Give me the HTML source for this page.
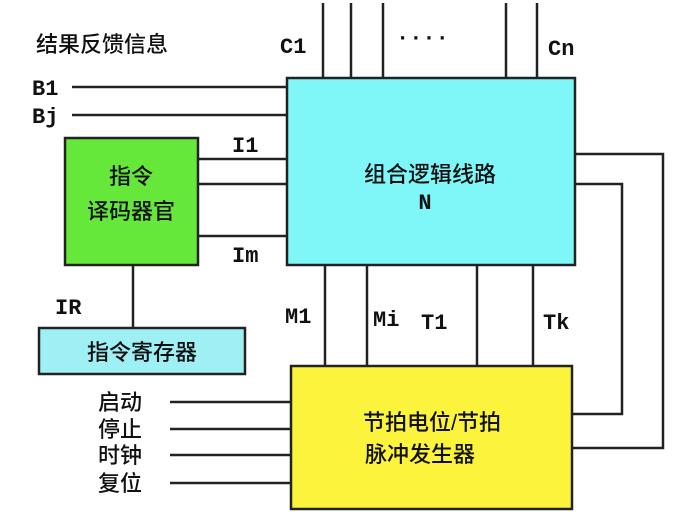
<!DOCTYPE html>
<html><head><meta charset="utf-8"><style>
body{margin:0;background:#fff}
svg text{font-family:"Liberation Mono","Noto Sans CJK SC",monospace;fill:#111}
.c{font-family:"Liberation Sans","Noto Sans CJK SC",sans-serif;font-weight:500}
</style></head><body>
<svg width="678" height="518" viewBox="0 0 678 518" xmlns="http://www.w3.org/2000/svg">
<g stroke="#222" stroke-width="2.5" fill="none">
<path d="M323 3V78M351 3V78M383 3V78M506 3V78M537 3V78"/>
<path d="M72 87H287M72 115H287"/>
<path d="M198 159H287M198 184H287M198 236H287"/>
<path d="M575 154H663V448H573M575 184H622V414H573"/>
<path d="M133 265V328"/>
<path d="M325 265V366M367 265V366M477 265V366M533 265V366"/>
<path d="M170 402H291M170 429H291M170 455H291M170 483H291"/>
</g>
<rect x="287" y="78" width="288" height="187" fill="#7ff6f8" stroke="#222" stroke-width="2.5"/>
<rect x="65" y="138" width="133" height="127" fill="#66e83a" stroke="#222" stroke-width="2.5"/>
<rect x="39" y="328" width="206" height="46" fill="#9ff0f4" stroke="#222" stroke-width="2.5"/>
<rect x="291" y="366" width="281" height="143" fill="#fcf43c" stroke="#222" stroke-width="2.5"/>
<g font-size="22" class="c">
<text x="36" y="52" class="c">结果反馈信息</text>
<text x="430" y="182" text-anchor="middle" class="c">组合逻辑线路</text>
<text x="131" y="184" text-anchor="middle" class="c">指令</text>
<text x="131" y="219" text-anchor="middle" class="c">译码器官</text>
<text x="142" y="360" text-anchor="middle" class="c">指令寄存器</text>
<text x="432" y="430" text-anchor="middle" class="c">节拍电位/节拍</text>
<text x="420" y="462" text-anchor="middle" class="c">脉冲发生器</text>
<text x="98" y="410" class="c">启动</text>
<text x="98" y="437" class="c">停止</text>
<text x="98" y="463" class="c">时钟</text>
<text x="98" y="491" class="c">复位</text>
</g>
<g font-size="22" font-weight="bold">
<text x="280" y="53">C1</text>
<text x="396" y="44">····</text>
<text x="548" y="55">Cn</text>
<text x="32" y="95">B1</text>
<text x="32" y="123">Bj</text>
<text x="232" y="152">I1</text>
<text x="232" y="262">Im</text>
<text x="425" y="209" text-anchor="middle">N</text>
<text x="55" y="314">IR</text>
<text x="285" y="323">M1</text>
<text x="373" y="326">Mi</text>
<text x="421" y="329">T1</text>
<text x="543" y="329">Tk</text>
</g>
</svg>
</body></html>
